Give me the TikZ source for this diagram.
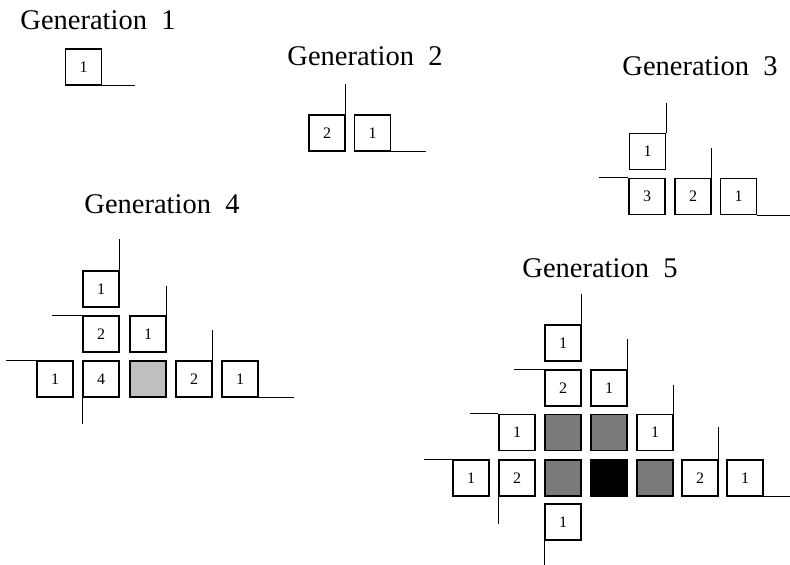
\documentclass[tikz,border=0pt]{standalone}
\usepackage{fontspec}
\setmainfont{Liberation Serif}
\begin{document}
\begin{tikzpicture}[x=1pt,y=-1pt,
  cell/.style={draw,line width=1.4pt,minimum size=36pt,inner sep=0pt,font=\fontsize{16}{16}\selectfont},
  lite/.style={cell,fill=black!25},
  dark/.style={cell,fill=black!52},
  solid/.style={cell,fill=black},
  wire/.style={line width=1pt},
  title/.style={anchor=base,font=\fontsize{28.5}{28.5}\selectfont}]
\useasboundingbox (0,0) rectangle (790,565);
% titles
\node[title] (t1) at (98,29) {Generation\ \ 1};
\node[title] (t2) at (365,65) {Generation\ \ 2};
\node[title] (t3) at (700,75) {Generation\ \ 3};
\node[title] (t4) at (162,213) {Generation\ \ 4};
\node[title] (t5) at (600,277) {Generation\ \ 5};
% Generation 1
\node[cell] (a1) at (83.5,67) {1};
\draw[wire] (a1.south east) -- ++(33,0);
% Generation 2
\node[cell] (b1) at (327,133) {2};
\node[cell] (b2) at (372.5,133) {1};
\draw[wire] (b1.north east) -- ++(0,-30);
\draw[wire] (b2.south east) -- ++(35,0);
% Generation 3
\node[cell] (c0) at (647.5,151.5) {1};
\node[cell] (c1) at (647,196.5) {3};
\node[cell] (c2) at (693,196.5) {2};
\node[cell] (c3) at (738.5,196.5) {1};
\draw[wire] (c0.north east) -- ++(0,-30);
\draw[wire] (c2.north east) -- ++(0,-30);
\draw[wire] (c1.north west) -- ++(-29,0);
\draw[wire] (c3.south east) -- ++(33,0);
% Generation 4
\node[cell] (d0) at (101,289) {1};
\node[cell] (d1) at (101,334) {2};
\node[cell] (d2) at (148,334) {1};
\node[cell] (d3) at (55,379) {1};
\node[cell] (d4) at (101,379) {4};
\node[lite] (d5) at (148,379) {};
\node[cell] (d6) at (194,379) {2};
\node[cell] (d7) at (240,379) {1};
\draw[wire] (d0.north east) -- ++(0,-31);
\draw[wire] (d2.north east) -- ++(0,-29);
\draw[wire] (d1.north west) -- ++(-30,0);
\draw[wire] (d3.north west) -- ++(-30,0);
\draw[wire] (d6.north east) -- ++(0,-30);
\draw[wire] (d7.south east) -- ++(35,0);
\draw[wire] (d4.south west) -- ++(0,26);
% Generation 5
\node[cell] (e0) at (563,343) {1};
\node[cell] (e1) at (563,388) {2};
\node[cell] (e2) at (609,388) {1};
\node[cell] (e3) at (517,432.5) {1};
\node[dark] (e4) at (563,432.5) {};
\node[dark] (e5) at (609,432.5) {};
\node[cell] (e6) at (655,432.5) {1};
\node[cell] (e7) at (471,478) {1};
\node[cell] (e8) at (517,478) {2};
\node[dark] (e9) at (563,478) {};
\node[solid] (e10) at (609,478) {};
\node[dark] (e11) at (655,478) {};
\node[cell] (e12) at (700,478) {2};
\node[cell] (e13) at (745,478) {1};
\node[cell] (e14) at (563,522) {1};
\draw[wire] (e0.north east) -- ++(0,-30);
\draw[wire] (e2.north east) -- ++(0,-30);
\draw[wire] (e1.north west) -- ++(-30,0);
\draw[wire] (e3.north west) -- ++(-28,0);
\draw[wire] (e6.north east) -- ++(0,-29);
\draw[wire] (e7.north west) -- ++(-28,0);
\draw[wire] (e12.north east) -- ++(0,-32);
\draw[wire] (e13.south east) -- ++(26,0);
\draw[wire] (e8.south west) -- ++(0,27);
\draw[wire] (e14.south west) -- ++(0,25);
\end{tikzpicture}
\end{document}
